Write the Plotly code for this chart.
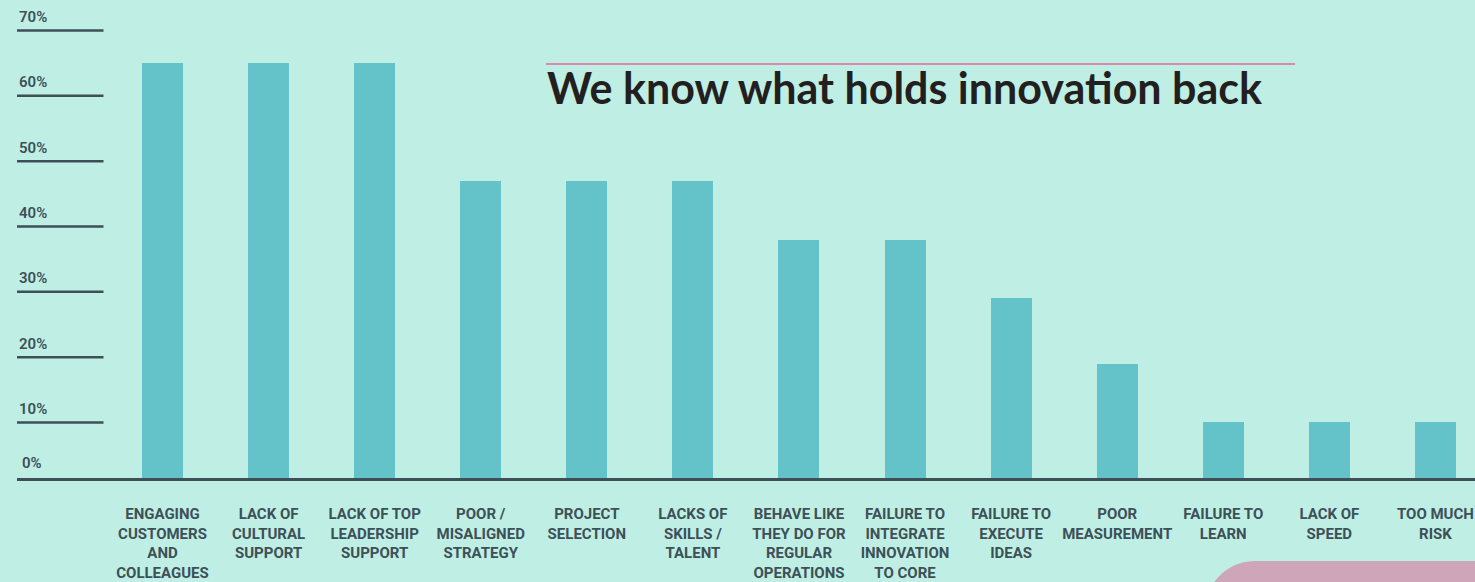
import plotly.graph_objects as go

# ---- data ----
categories = [
    "ENGAGING<br>CUSTOMERS<br>AND<br>COLLEAGUES",
    "LACK OF<br>CULTURAL<br>SUPPORT",
    "LACK OF TOP<br>LEADERSHIP<br>SUPPORT",
    "POOR /<br>MISALIGNED<br>STRATEGY",
    "PROJECT<br>SELECTION",
    "LACKS OF<br>SKILLS /<br>TALENT",
    "BEHAVE LIKE<br>THEY DO FOR<br>REGULAR<br>OPERATIONS",
    "FAILURE TO<br>INTEGRATE<br>INNOVATION<br>TO CORE",
    "FAILURE TO<br>EXECUTE<br>IDEAS",
    "POOR<br>MEASUREMENT",
    "FAILURE TO<br>LEARN",
    "LACK OF<br>SPEED",
    "TOO MUCH<br>RISK",
]
values = [65, 65, 65, 47, 47, 47, 38, 38, 29, 19, 10, 10, 10]
grid_values = [10, 20, 30, 40, 50, 60, 70]
grid_labels = ["10%", "20%", "30%", "40%", "50%", "60%", "70%"]
zero_label = "0%"
title_text = "We know what holds innovation back"

# ---- styles ----
BG = "#BFEFE4"
BAR = "#63C3C9"
DARK = "#3D5057"
TITLE = "#231F20"
PINK_LINE = "#E3679B"
PINK_SHAPE = "#CFA5BA"

W, H = 1475, 582
L, R, T, B = 17, 0, 0, 104
PW, PH = W - L - R, H - T - B

def px_x(p):
    return (p - L) / PW

def px_y(p):
    return (H - B - p) / PH

xs = list(range(len(categories)))

fig = go.Figure()
fig.add_trace(go.Bar(
    x=xs, y=values, marker=dict(color=BAR, line=dict(width=0)),
    width=0.386, hoverinfo="skip",
))

shapes = []
annotations = []
for v, lab in zip(grid_values, grid_labels):
    shapes.append(dict(type="line", xref="paper", yref="y", x0=0, x1=px_x(103.5),
                       y0=v, y1=v, line=dict(color=DARK, width=2.5), layer="above"))
    annotations.append(dict(xref="paper", yref="y", x=0, y=v, xanchor="left", yanchor="middle",
                            yshift=13.5, text=lab, showarrow=False,
                            font=dict(family="Roboto", size=15, color=DARK, weight=600)))
annotations.append(dict(xref="paper", yref="paper", x=px_x(20), y=0, xanchor="left", yanchor="middle",
                        yshift=15.5, text=zero_label, showarrow=False,
                        font=dict(family="Roboto", size=15, color=DARK, weight=600)))

# title + pink rule
shapes.append(dict(type="line", xref="paper", yref="paper", x0=px_x(546), x1=px_x(1295),
                   y0=px_y(64), y1=px_y(64), line=dict(color=PINK_LINE, width=1.5)))
annotations.append(dict(xref="paper", yref="paper", x=px_x(545), y=px_y(87.5), xanchor="left",
                        yanchor="middle", text="<b>" + title_text + "</b>", showarrow=False,
                        font=dict(family="Lato", size=43, color=TITLE)))

# decorative pink rounded panel bottom-right
k = 0.5523 * 50
path = (f"M {px_x(1205)},{px_y(640)} L {px_x(1205)},{px_y(611)} "
        f"C {px_x(1205)},{px_y(611 - k)} {px_x(1255 - k)},{px_y(561)} {px_x(1255)},{px_y(561)} "
        f"L {px_x(1520)},{px_y(561)} L {px_x(1520)},{px_y(640)} Z")
shapes.append(dict(type="path", xref="paper", yref="paper", path=path,
                   fillcolor=PINK_SHAPE, line=dict(width=0), layer="below"))

fig.update_layout(
    width=W, height=H,
    margin=dict(l=L, r=R, t=T, b=B, autoexpand=False),
    paper_bgcolor=BG, plot_bgcolor=BG,
    showlegend=False,
    bargap=0,
    shapes=shapes, annotations=annotations,
    xaxis=dict(range=[-1.3716, 12.373], tickmode="array", tickvals=xs, ticktext=categories,
               showgrid=False, zeroline=False, showline=True, linecolor=DARK, linewidth=3,
               ticks="", ticklabelstandoff=20, automargin=False,
               tickfont=dict(family="Roboto", size=15, color=DARK, weight=700)),
    yaxis=dict(range=[1.5, 74.67], showgrid=False, zeroline=False, showline=False,
               showticklabels=False, automargin=False),
)

fig.write_html("out.html")
